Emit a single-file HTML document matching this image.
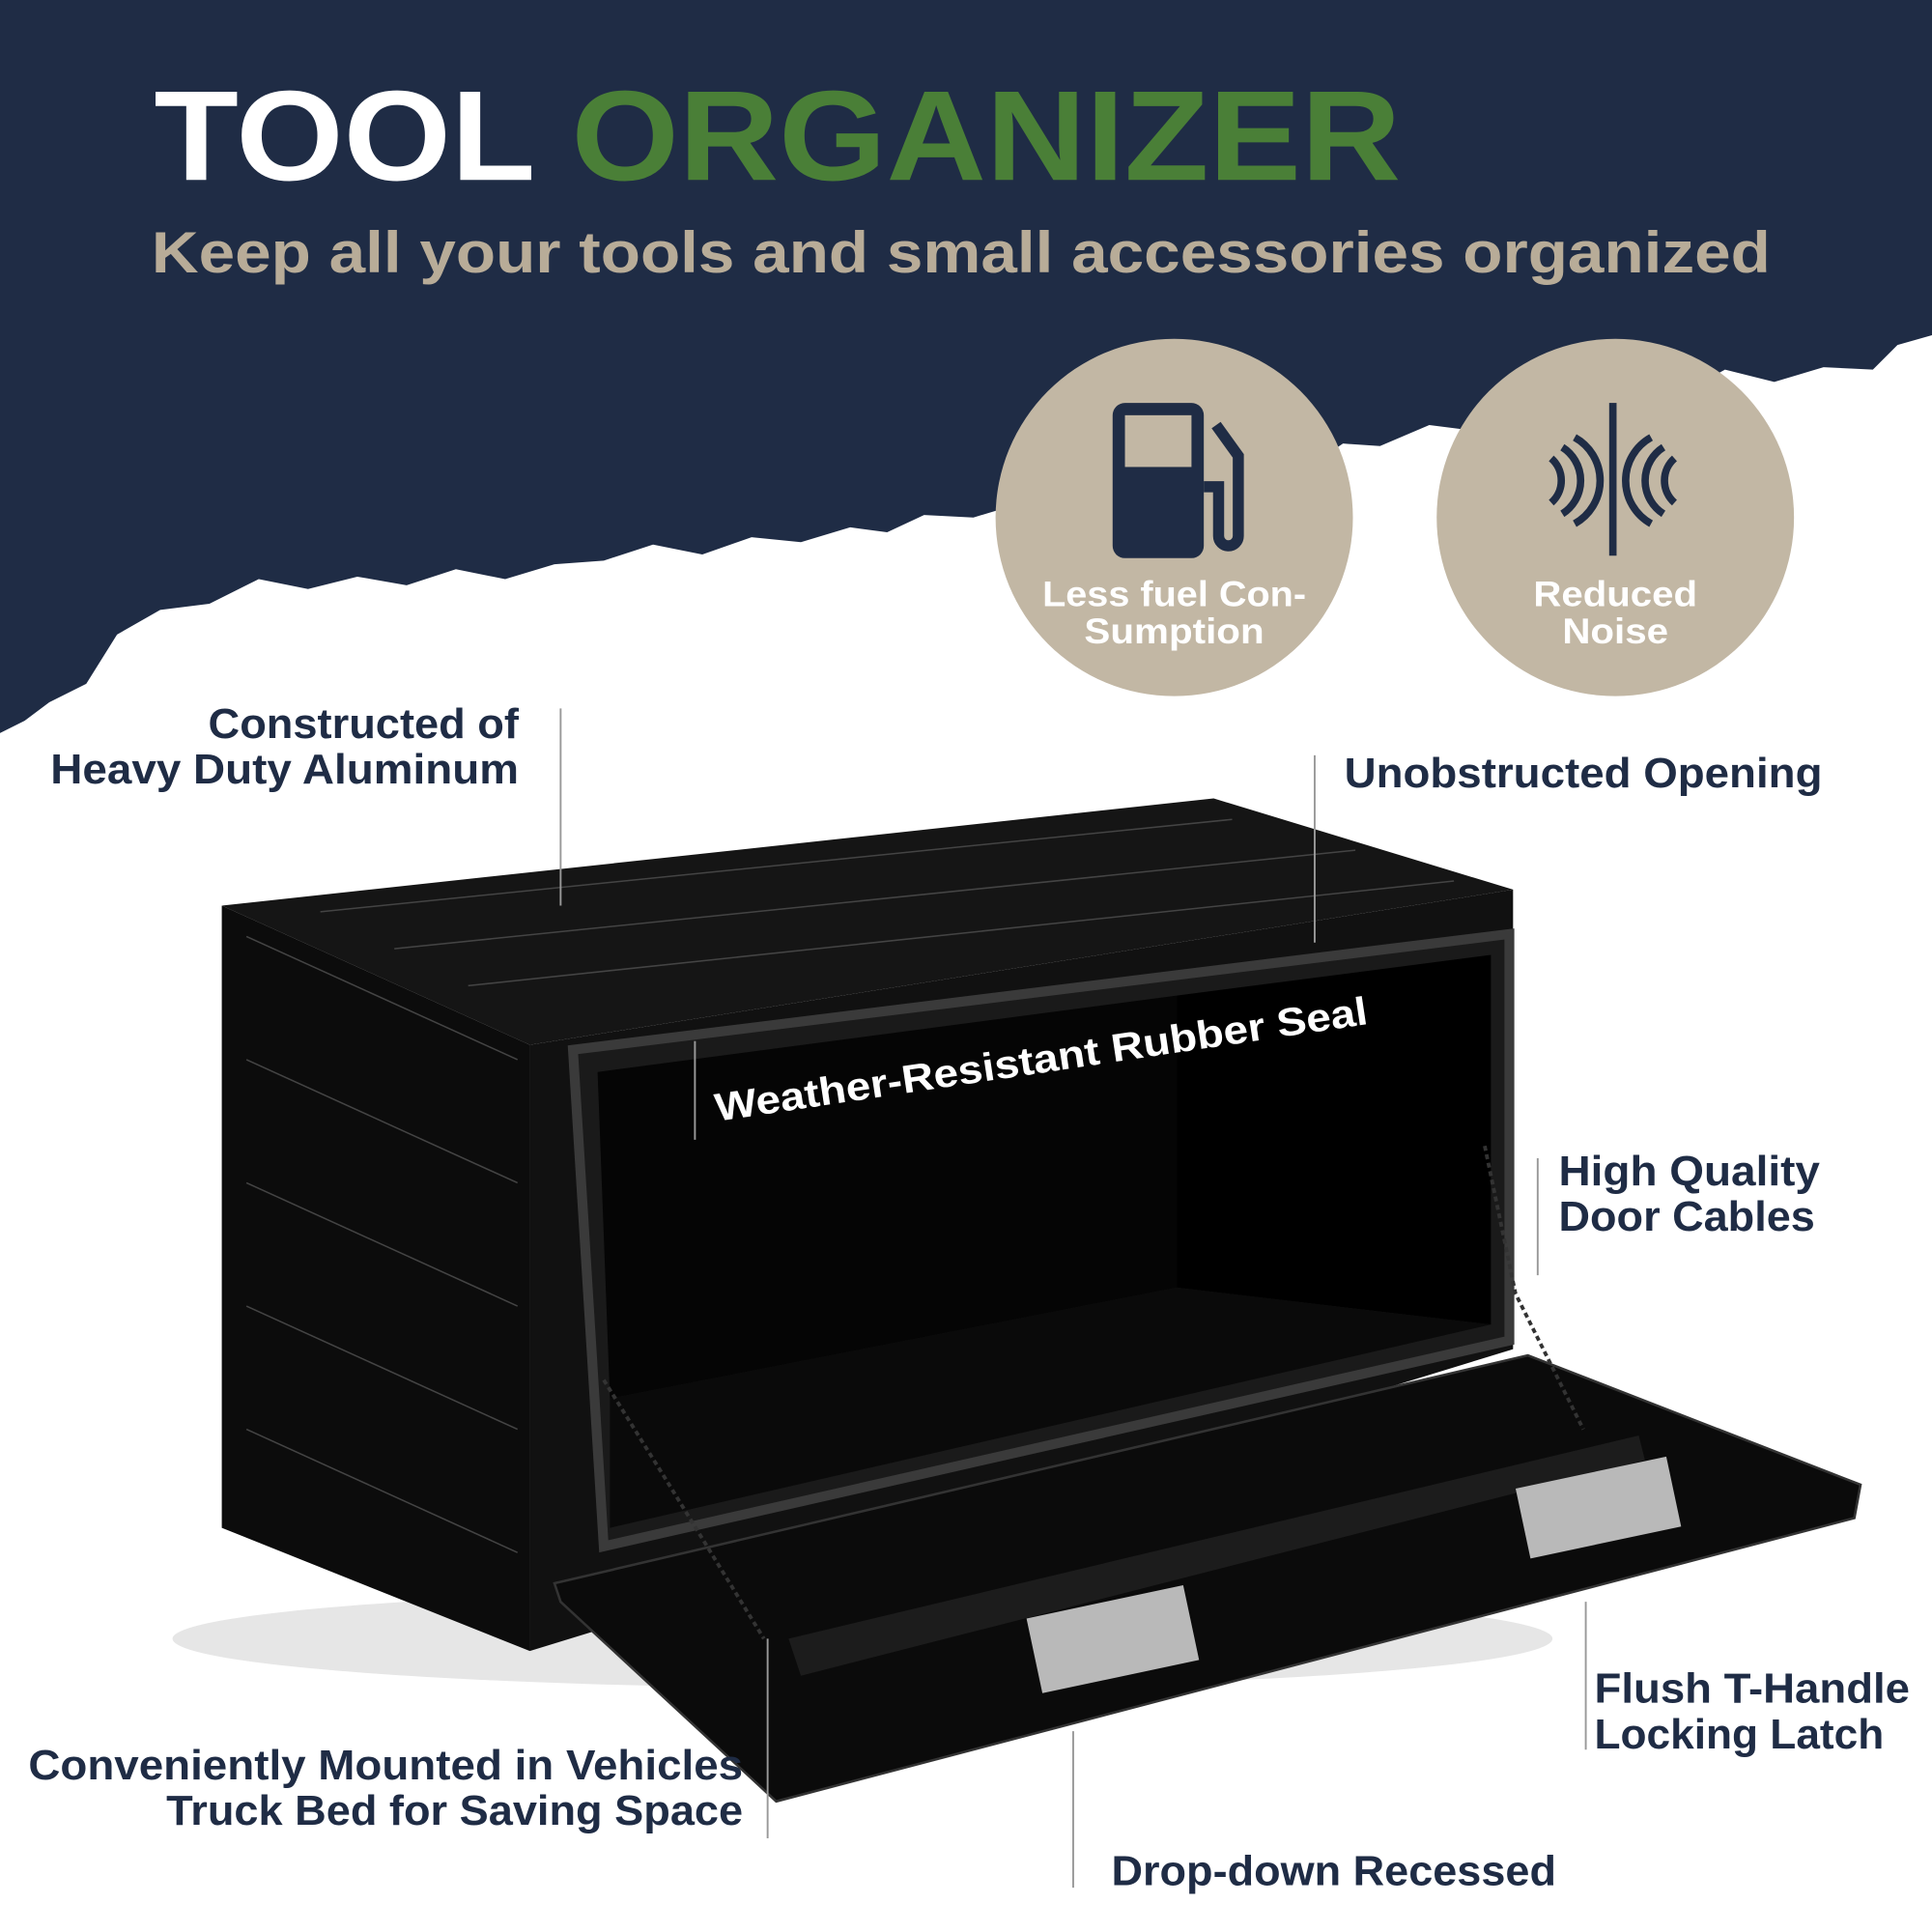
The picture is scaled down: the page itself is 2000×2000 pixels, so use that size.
<!DOCTYPE html>
<html><head><meta charset="utf-8"><style>
html,body{margin:0;padding:0;background:#fff}
svg{display:block}
text{font-family:"Liberation Sans",sans-serif;font-weight:bold}
</style></head><body>
<svg width="2000" height="2000" viewBox="0 0 1568 1568" xmlns="http://www.w3.org/2000/svg">
<rect width="1568" height="1568" fill="#fff"/>
<path d="M0,0 H1568 V272 L1540,280 L1520,300 L1480,298 L1440,310 L1400,300 L1360,322 L1320,318 L1280,335 L1240,330 L1200,350 L1160,345 L1120,362 L1090,360 L1060,380 L1020,378 L990,392 L950,388 L910,402 L870,398 L830,408 L790,420 L750,418 L720,432 L690,428 L650,440 L610,436 L570,450 L530,442 L490,455 L450,458 L410,470 L370,462 L330,475 L290,468 L250,478 L210,470 L170,490 L130,495 L95,515 L70,555 L40,570 L20,585 L0,595 Z" fill="#1f2c45"/>
<text x="125" y="146" font-size="104" fill="#fff" style="font-weight:900" textLength="1012" lengthAdjust="spacingAndGlyphs">TOOL <tspan fill="#4a7f37">ORGANIZER</tspan></text>
<text x="123" y="221" font-size="47" fill="#b8ac98" textLength="1314" lengthAdjust="spacingAndGlyphs">Keep all your tools and small accessories organized</text>
<circle cx="953" cy="420" r="145" fill="#c2b7a4"/>
<circle cx="1311" cy="420" r="145" fill="#c2b7a4"/>
<rect x="903" y="327" width="74" height="126" rx="10" fill="#1f2c45"/>
<rect x="913" y="337" width="54" height="42" fill="#c2b7a4"/>
<path d="M977,395 h12 v40 a8,8 0 0 0 16,0 v-65 l-18,-25" fill="none" stroke="#1f2c45" stroke-width="9"/>
<rect x="1306" y="327" width="6" height="124" fill="#1f2c45"/>
<path d="M1278,355 a40,40 0 0 1 0,70 M1268,363 a32,32 0 0 1 0,54 M1259,372 a24,24 0 0 1 0,36 M1340,355 a40,40 0 0 0 0,70 M1350,363 a32,32 0 0 0 0,54 M1359,372 a24,24 0 0 0 0,36" fill="none" stroke="#1f2c45" stroke-width="6"/>
<text x="953" y="492" font-size="29" fill="#fff" text-anchor="middle" textLength="214" lengthAdjust="spacingAndGlyphs">Less fuel Con-</text>
<text x="953" y="522" font-size="29" fill="#fff" text-anchor="middle" textLength="146" lengthAdjust="spacingAndGlyphs">Sumption</text>
<text x="1311" y="492" font-size="29" fill="#fff" text-anchor="middle" textLength="133" lengthAdjust="spacingAndGlyphs">Reduced</text>
<text x="1311" y="522" font-size="29" fill="#fff" text-anchor="middle" textLength="86" lengthAdjust="spacingAndGlyphs">Noise</text>
<!-- box -->
<ellipse cx="700" cy="1330" rx="560" ry="40" fill="#e6e6e6"/>
<polygon points="180,735 985,648 1228,722 430,848" fill="#151515"/>
<polygon points="180,735 430,848 430,1340 180,1240" fill="#0c0c0c"/>
<polygon points="430,848 1228,722 1228,1095 430,1340" fill="#111"/>
<polygon points="465,852 1225,758 1225,1088 490,1255" fill="#1a1a1a" stroke="#3a3a3a" stroke-width="8"/>
<polygon points="485,870 955,808 955,1045 495,1135" fill="#050505"/>
<polygon points="955,808 1210,775 1210,1075 955,1045" fill="#000"/>
<polygon points="495,1135 955,1045 1210,1075 495,1240" fill="#0a0a0a"/>
<g stroke="#444" stroke-width="1.2">
<line x1="200" y1="760" x2="420" y2="860"/><line x1="200" y1="860" x2="420" y2="960"/><line x1="200" y1="960" x2="420" y2="1060"/><line x1="200" y1="1060" x2="420" y2="1160"/><line x1="200" y1="1160" x2="420" y2="1260"/>
<line x1="260" y1="740" x2="1000" y2="665"/><line x1="320" y1="770" x2="1100" y2="690"/><line x1="380" y1="800" x2="1180" y2="715"/>
</g>
<polygon points="450,1285 1240,1100 1510,1205 1505,1232 630,1462 455,1300" fill="#0b0b0b" stroke="#333" stroke-width="2"/>
<polygon points="640,1330 1330,1165 1335,1185 650,1360" fill="#1c1c1c"/>
<rect x="838" y="1300" width="130" height="62" fill="#b9b9b9" transform="rotate(-12 900 1330)"/>
<rect x="1235" y="1195" width="125" height="58" fill="#b9b9b9" transform="rotate(-12 1295 1225)"/>
<polyline points="490,1120 540,1200 620,1330" fill="none" stroke="#333" stroke-width="3" stroke-dasharray="4 3"/>
<polyline points="1205,930 1230,1050 1285,1160" fill="none" stroke="#333" stroke-width="3" stroke-dasharray="4 3"/>
<!-- labels -->
<g stroke="#999" stroke-width="1.5">
<line x1="455" y1="575" x2="455" y2="735"/>
<line x1="1067" y1="613" x2="1067" y2="765"/>
<line x1="564" y1="845" x2="564" y2="925"/>
<line x1="1248" y1="940" x2="1248" y2="1035"/>
<line x1="1287" y1="1300" x2="1287" y2="1420"/>
<line x1="623" y1="1330" x2="623" y2="1492"/>
<line x1="871" y1="1405" x2="871" y2="1532"/>
</g>
<g font-size="34" fill="#1f2c45">
<text x="421" y="599" text-anchor="end" textLength="252" lengthAdjust="spacingAndGlyphs">Constructed of</text>
<text x="421" y="636" text-anchor="end" textLength="380" lengthAdjust="spacingAndGlyphs">Heavy Duty Aluminum</text>
<text x="1091" y="639" textLength="388" lengthAdjust="spacingAndGlyphs">Unobstructed Opening</text>
<text x="1265" y="962" textLength="212" lengthAdjust="spacingAndGlyphs">High Quality</text>
<text x="1265" y="999" textLength="208" lengthAdjust="spacingAndGlyphs">Door Cables</text>
<text x="1294" y="1382" textLength="256" lengthAdjust="spacingAndGlyphs">Flush T-Handle</text>
<text x="1294" y="1419" textLength="235" lengthAdjust="spacingAndGlyphs">Locking Latch</text>
<text x="603" y="1444" text-anchor="end" textLength="580" lengthAdjust="spacingAndGlyphs">Conveniently Mounted in Vehicles</text>
<text x="603" y="1481" text-anchor="end" textLength="468" lengthAdjust="spacingAndGlyphs">Truck Bed for Saving Space</text>
<text x="902" y="1530" textLength="361" lengthAdjust="spacingAndGlyphs">Drop-down Recessed</text>
</g>
<text x="582" y="910" font-size="32" fill="#fff" transform="rotate(-8.5 582 910)" textLength="535" lengthAdjust="spacingAndGlyphs">Weather-Resistant Rubber Seal</text>
</svg>
</body></html>
